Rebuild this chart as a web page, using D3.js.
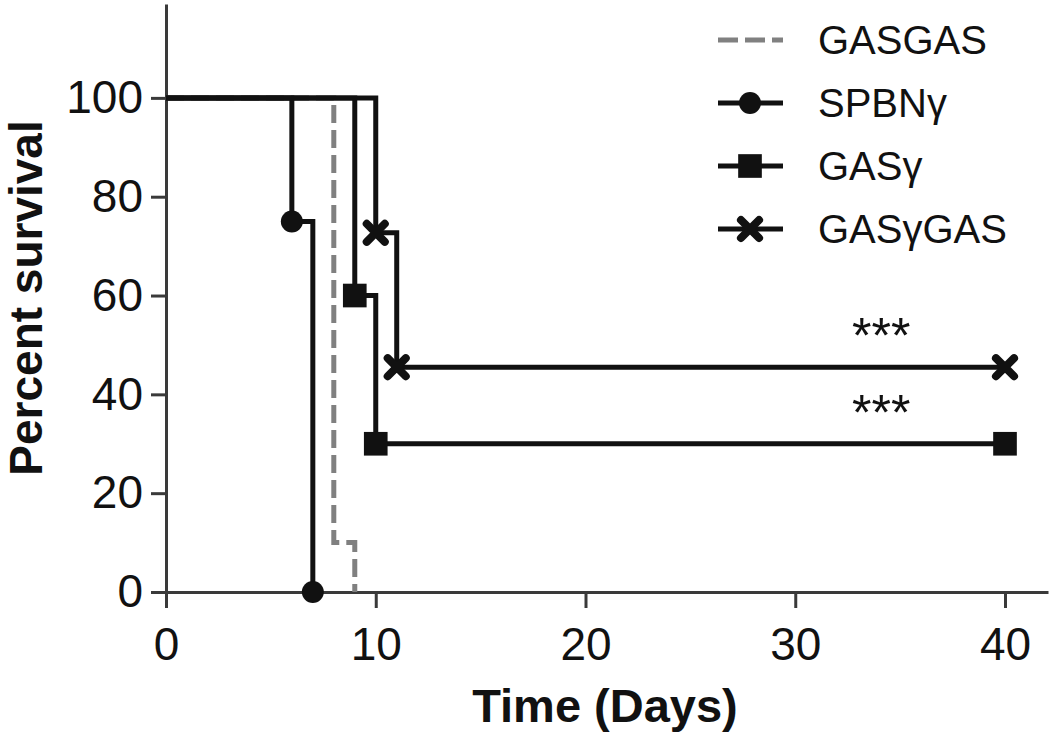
<!DOCTYPE html>
<html>
<head>
<meta charset="utf-8">
<script src="https://cdn.jsdelivr.net/npm/d3@7"></script>
<style>
  body { margin: 0; background: #fff; }
  text { font-family: 'Liberation Sans', Arial, sans-serif; fill: #111; }
</style>
</head>
<body>
<div id="drawArea"></div>
<script>
// Kaplan-Meier steps
const seriesNames = ['GASGAS', 'SPBNγ', 'GASγ', 'GASγGAS'];
const gasgasDays = [0, 8, 9];
const gasgasSurvival = [100, 10, 0];
const spbnDays = [0, 6, 7];
const spbnSurvival = [100, 75, 0];
const gasDays = [0, 9, 10, 40];
const gasSurvival = [100, 60, 30, 30];
const gasGasDays = [0, 10, 11, 40];
const gasGasSurvival = [100, 72.7, 45.5, 45.5];

const xTicks = [0, 10, 20, 30, 40];
const yTicks = [0, 20, 40, 60, 80, 100];
const sigLabels = ['***', '***'];   // for GASγGAS and GASγ
const sigDay = 34.1;

const width = 1050;
const height = 735;

const x = d3.scaleLinear().domain([0, 42.05]).range([166, 1048]);
const y = d3.scaleLinear().domain([0, 119]).range([592, 4]);

const svg = d3.select('#drawArea').append('svg')
  .attr('width', width)
  .attr('height', height);

const axisColor = '#3a3a3a';

// x axis
const gx = svg.append('g')
  .attr('transform', `translate(0, ${y(0)})`)
  .call(d3.axisBottom(x).tickValues(xTicks).tickSize(16).tickSizeOuter(0).tickPadding(19));

// y axis
const gy = svg.append('g')
  .attr('transform', `translate(${x(0)}, 0)`)
  .call(d3.axisLeft(y).tickValues(yTicks).tickSize(15).tickSizeOuter(0).tickPadding(8));

[gx, gy].forEach(g => {
  g.select('.domain').attr('stroke', axisColor).attr('stroke-width', 3);
  g.selectAll('.tick line').attr('stroke', axisColor).attr('stroke-width', 3);
  g.selectAll('.tick text')
    .attr('font-size', 46)
    .attr('font-family', "'Liberation Sans', Arial, sans-serif")
    .attr('fill', '#111');
});

// axis titles
svg.append('text')
  .text('Time (Days)')
  .attr('x', 605)
  .attr('y', 722)
  .attr('text-anchor', 'middle')
  .attr('font-size', 47)
  .attr('font-weight', 'bold');

svg.append('text')
  .text('Percent survival')
  .attr('transform', 'translate(42, 298) rotate(-90)')
  .attr('text-anchor', 'middle')
  .attr('font-size', 46)
  .attr('font-weight', 'bold');

const series = [
  { name: seriesNames[0], days: gasgasDays, surv: gasgasSurvival, color: '#808080', dash: '18,7', marker: null },
  { name: seriesNames[1], days: spbnDays, surv: spbnSurvival, color: '#111', dash: null, marker: 'circle' },
  { name: seriesNames[2], days: gasDays, surv: gasSurvival, color: '#111', dash: null, marker: 'square' },
  { name: seriesNames[3], days: gasGasDays, surv: gasGasSurvival, color: '#111', dash: null, marker: 'x' },
];

const stepLine = d3.line()
  .x(d => x(d[0]))
  .y(d => y(d[1]))
  .curve(d3.curveStepAfter);

function markerPath(type) {
  if (type === 'circle') return d3.symbol(d3.symbolCircle, 380)();
  if (type === 'square') return d3.symbol(d3.symbolSquare, 560)();
  return d3.symbol(d3.symbolX, 215)();
}

function drawMarker(g, type, cx, cy, color) {
  const m = g.append('path')
    .attr('d', markerPath(type))
    .attr('transform', `translate(${cx}, ${cy})`);
  if (type === 'x') {
    m.attr('fill', 'none').attr('stroke', color).attr('stroke-width', 8).attr('stroke-linecap', 'round');
  } else {
    m.attr('fill', color);
  }
}

const plot = svg.append('g');

series.forEach(s => {
  const pts = s.days.map((d, i) => [d, s.surv[i]]);
  plot.append('path')
    .attr('d', stepLine(pts))
    .attr('fill', 'none')
    .attr('stroke', s.color)
    .attr('stroke-width', 5)
    .attr('stroke-dasharray', s.dash);
  if (s.marker) {
    pts.slice(1).forEach(p => drawMarker(plot, s.marker, x(p[0]), y(p[1]), s.color));
  }
});

// significance stars above the plateau of GASγGAS and GASγ
[series[3], series[2]].forEach((s, i) => {
  svg.append('text')
    .text(sigLabels[i])
    .attr('x', x(sigDay))
    .attr('y', y(s.surv[s.surv.length - 1]) - 14)
    .attr('text-anchor', 'middle')
    .attr('font-size', 50);
});

// legend
const legend = svg.append('g');
series.forEach((s, i) => {
  const ly = 40 + i * 63;
  legend.append('line')
    .attr('x1', 718).attr('x2', 783)
    .attr('y1', ly).attr('y2', ly)
    .attr('stroke', s.color)
    .attr('stroke-width', 5)
    .attr('stroke-dasharray', s.dash ? '20,7' : null);
  if (s.marker) drawMarker(legend, s.marker, 750, ly, s.color);
  legend.append('text')
    .text(s.name)
    .attr('x', 818)
    .attr('y', ly)
    .attr('dy', '0.35em')
    .attr('font-size', 40);
});
</script>
</body>
</html>
